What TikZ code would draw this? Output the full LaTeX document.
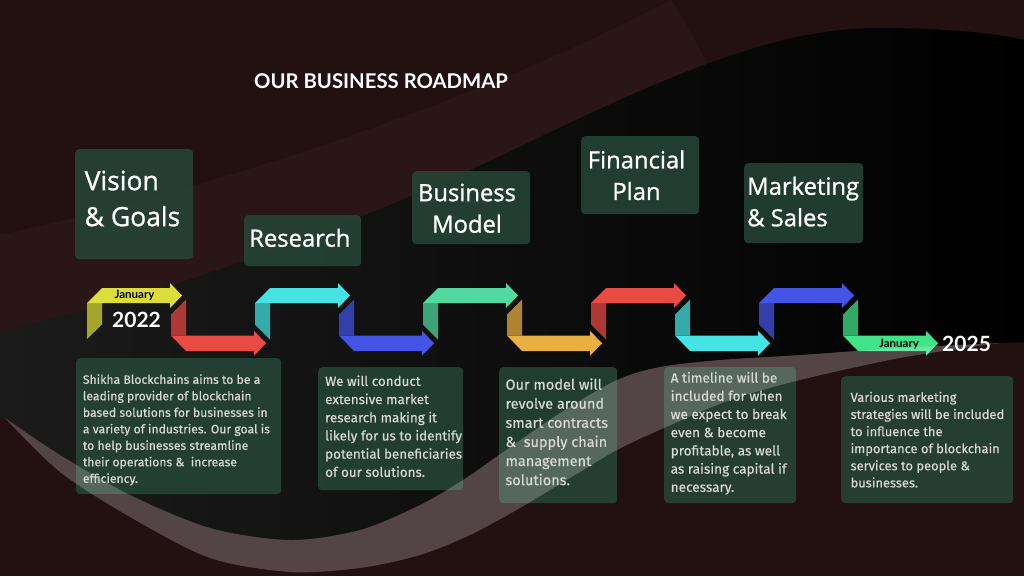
\documentclass[tikz,border=0pt]{standalone}
\usepackage{fontspec}
\setmainfont[FakeBold=0.4]{Fira Sans}
\newfontfamily\headfont[FakeBold=0.9]{Open Sans}
\newfontfamily\latofont{Lato}

\definecolor{bgmaroon}{HTML}{231011}
\definecolor{bglight}{HTML}{2B1617}
\definecolor{bgblackl}{HTML}{1B1B1B}
\definecolor{bgblackm}{HTML}{171717}
\definecolor{boxgreen}{HTML}{27493A}
\definecolor{txtgray}{HTML}{D8D8D8}
\definecolor{ayellow}{HTML}{DCDC3A}
\definecolor{ared}{HTML}{E84B44}
\definecolor{acyan}{HTML}{45E3E3}
\definecolor{ablue}{HTML}{4455E6}
\definecolor{amint}{HTML}{52D9A0}
\definecolor{aorange}{HTML}{E8B040}
\definecolor{agreen}{HTML}{40E388}

\begin{document}
\begin{tikzpicture}[x=1pt,y=-1pt,
	panel/.style={fill=boxgreen, fill opacity=0.8, rounded corners=4pt, inner sep=0pt, anchor=north west},
	headtext/.style={text=white, inner sep=0pt, font=\headfont\fontsize{23.8}{31.5}\selectfont},
	desctext/.style={text=txtgray, align=left, inner sep=0pt, anchor=north west},
	jan/.style={text=black, inner sep=0pt, font=\latofont\bfseries\fontsize{11.5}{13}\selectfont},
	year/.style={text=white, inner sep=0pt, font=\latofont\bfseries\fontsize{21}{24}\selectfont}]
	
	\useasboundingbox (0,0) rectangle (1024,576);
	
	% background waves
	\fill[bgmaroon] (0,0) rectangle (1024,576);
	\fill[bglight] (0,235) .. controls (250,180) and (500,90) .. (671,0) .. controls (690,30) .. (710,70) -- (540,170) -- (0,400) -- cycle;
	\shade[left color=bgblackl, middle color=bgblackm, right color=black]
		(0,330) .. controls (150,300) and (350,230) .. (540,137)
		.. controls (700,60) and (790,28) .. (880,28)
		.. controls (950,28) and (1000,34) .. (1024,40)
		-- (1024,342)
		-- plot[smooth] coordinates {(1000,343) (900,348) (800,355) (720,360) (660,367) (617,380) (560,413) (499,455) (463,480) (420,505) (360,530) (290,540) (210,528) (130,495) (60,455) (5,418)}
		-- (0,418) -- cycle;
	
	\node[text=white, inner sep=0pt, font=\latofont\bfseries\fontsize{20.3}{24}\selectfont] (title) at (381,81) {OUR BUSINESS ROADMAP};
	
	% heading boxes
	\node[panel, minimum width=118, minimum height=110] (visionbox) at (75,149) {};
	\node[panel, minimum width=117, minimum height=51] (researchbox) at (244,215) {};
	\node[panel, minimum width=118, minimum height=73] (businessbox) at (412,171) {};
	\node[panel, minimum width=118, minimum height=78] (financebox) at (581,136) {};
	\node[panel, minimum width=119, minimum height=80] (marketbox) at (744,163) {};
	
	\node[headtext, font=\headfont\fontsize{26.5}{36}\selectfont, align=left, anchor=north west] (vision) at (84.5,170.5) {Vision\\\& Goals};
	\node[headtext, anchor=base west] (research) at (249,246.7) {Research};
	\node[headtext, align=center, anchor=north] (business) at (467,183.5) {Business\\Model};
	\node[headtext, align=center, anchor=north] (finance) at (636.5,150.2) {Financial\\Plan};
	\node[headtext, align=left, anchor=north west] (market) at (747,176.5) {Marketing\\\& Sales};
	
	% arrow ribbon
	\foreach \c [count=\i from 0] in {ayellow,ared,acyan,ablue,amint,aorange,ared,acyan,ablue,agreen}
	{
		\pgfmathsetmacro\xa{87+84*\i}
		\ifodd\i
			\fill[\c!75!black] (\xa,314.5) -- (\xa+15,299.5) -- (\xa+15,335.5) -- (\xa,335.5) -- cycle;
			\fill[\c] (\xa,335.5) -- (\xa+83,335.5) -- (\xa+83,330.75) -- (\xa+95,343.25) -- (\xa+83,355.75) -- (\xa+83,351) -- (\xa+15,351) -- cycle;
		\else
			\ifnum\i=0 \def\yl{339}\def\yr{324.5}\else \def\yl{324.5}\def\yr{339.5}\fi
			\fill[\c!75!black] (\xa,303) -- (\xa+15,303) -- (\xa+15,\yr) -- (\xa,\yl) -- cycle;
			\fill[\c] (\xa,303) -- (\xa+15,288) -- (\xa+83,288) -- (\xa+83,283) -- (\xa+95,295.5) -- (\xa+83,308) -- (\xa+83,303) -- cycle;
		\fi
	}
	
	\node[jan] (jan1) at (134.5,295.7) {January};
	\node[year] (y2022) at (136.5,320) {2022};
	\node[jan] (jan2) at (899,344.5) {January};
	\node[year, anchor=west] (y2025) at (942,344) {2025};
	
	% description boxes
	\node[panel, minimum width=205, minimum height=136] (visiondesc) at (76,358) {};
	\node[panel, minimum width=145, minimum height=123] (researchdesc) at (318,367) {};
	\node[panel, minimum width=118, minimum height=136] (businessdesc) at (499,367) {};
	\node[panel, minimum width=132, minimum height=136] (financedesc) at (664,367) {};
	\node[panel, minimum width=172, minimum height=127] (marketdesc) at (841,376) {};
	
	% swoosh over the boxes
	\fill[white, fill opacity=0.22]
		plot[smooth] coordinates {(5,418) (60,455) (130,495) (210,528) (290,540) (360,530) (420,505) (463,480) (499,455) (560,413) (617,380) (660,367) (720,360) (800,355) (900,348) (1000,343)}
		-- plot[smooth] coordinates {(1000,343) (900,358) (800,380) (730,400) (664,428) (617,450) (570,478) (520,508) (470,535) (420,555) (360,568) (290,572) (210,558) (130,517) (60,472) (5,418)}
		-- cycle;
	
	\node[desctext, font=\fontsize{12.2}{16.5}\selectfont] (visiontext) at (82.7,374.1)
		{Shikha Blockchains aims to be a\\leading provider of blockchain\\based solutions for businesses in\\a variety of industries. Our goal is\\to help businesses streamline\\their operations \&\ \ increase\\efficiency.};
	\node[desctext, font=\fontsize{13.4}{18.2}\selectfont] (researchtext) at (325,375.2)
		{We will conduct\\extensive market\\research making it\\likely for us to identify\\potential beneficiaries\\of our solutions.};
	\node[desctext, font=\fontsize{14.5}{19.1}\selectfont] (businesstext) at (505.3,378.1)
		{Our model will\\revolve around\\smart contracts\\\&\ \ supply chain\\management\\solutions.};
	\node[desctext, font=\fontsize{13.6}{18.2}\selectfont] (financetext) at (670.5,371.8)
		{A timeline will be\\included for when\\we expect to break\\even \& become\\profitable, as well\\as raising capital if\\necessary.};
	\node[desctext, font=\fontsize{12.9}{17.1}\selectfont] (markettext) at (850.4,391.6)
		{Various marketing\\strategies will be included\\to influence the\\importance of blockchain\\services to people \&\\businesses.};
	
\end{tikzpicture}
\end{document}
